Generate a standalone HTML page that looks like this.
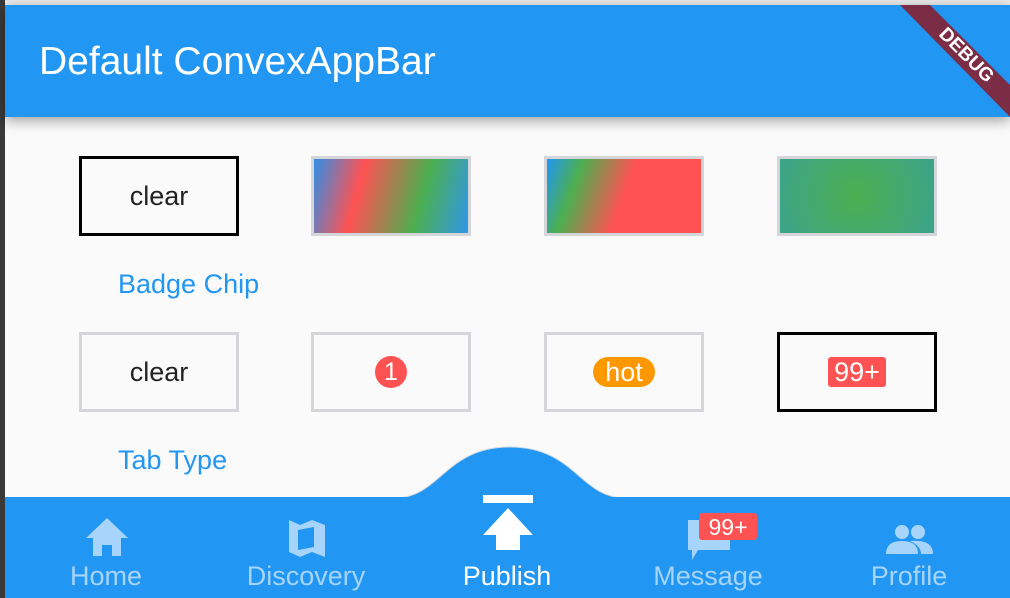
<!DOCTYPE html>
<html><head><meta charset="utf-8"><style>
*{margin:0;padding:0;box-sizing:border-box}
body{width:1010px;height:598px;overflow:hidden;background:#fafafa;font-family:"Liberation Sans",sans-serif;position:relative}
.abs{position:absolute}
.top{left:0;top:0;width:1010px;height:5px;background:#e8e8e8}
.leftedge{left:0;top:0;width:5px;height:598px;background:#3a3a3a}
.bar{left:5px;top:5px;width:1005px;height:112px;background:#2196F3;box-shadow:0 4px 12px rgba(0,0,0,.35);z-index:2}
.title{left:39px;top:40px;color:#fff;font-size:39px;z-index:3}
.box{width:160px;height:80px;border:3px solid #d4d6da;display:flex;align-items:center;justify-content:center;font-size:27px;color:#222}
.blk{border-color:#000}
.lbl{color:#2196F3;font-size:27px}
.bottom{left:5px;top:497px;width:1005px;height:101px;background:#2196F3}
.tab{top:561px;font-size:27px;color:#a6d4fa;width:200px;text-align:center}
</style></head><body>
<div class="abs top"></div>
<div class="abs leftedge"></div>
<div class="abs bar"></div>
<div class="abs title">Default ConvexAppBar</div>
<svg class="abs" style="left:880px;top:5px;z-index:4" width="130" height="112">
<polygon points="20,0 50,0 130,80 130,112" fill="#7b2d46"/>
<text x="0" y="0" transform="translate(58,30) rotate(45)" fill="#fff" font-size="19" font-weight="bold" font-family="Liberation Sans">DEBUG</text>
</svg>
<div class="abs box blk" style="left:79px;top:156px">clear</div>
<div class="abs box" style="left:311px;top:156px"><div style="width:100%;height:100%;background:linear-gradient(105deg,#2f8fe8 0%,#ff5252 30%,#4caf50 68%,#2f96e8 100%)"></div></div>
<div class="abs box" style="left:544px;top:156px"><div style="width:100%;height:100%;background:linear-gradient(110deg,#2196F3 0%,#4caf50 20%,#ff5252 50%,#ff5252 100%)"></div></div>
<div class="abs box" style="left:777px;top:156px"><div style="width:100%;height:100%;background:radial-gradient(circle,#4caf50 0%,#3ba38a 100%)"></div></div>
<div class="abs lbl" style="left:118px;top:269px">Badge Chip</div>
<div class="abs box" style="left:79px;top:332px">clear</div>
<div class="abs box" style="left:311px;top:332px"><span style="display:inline-block;width:32px;height:32px;border-radius:50%;background:#ff5252;color:#fff;text-align:center;line-height:32px;font-size:25px">1</span></div>
<div class="abs box" style="left:544px;top:332px"><span style="background:#ff9800;color:#fff;border-radius:16px;padding:0 12px;line-height:30px;font-size:27px">hot</span></div>
<div class="abs box blk" style="left:777px;top:332px"><span style="background:#ff5252;color:#fff;border-radius:3px;padding:0 6px;line-height:30px;font-size:27px">99+</span></div>
<div class="abs lbl" style="left:118px;top:445px">Tab Type</div>
<svg class="abs" style="left:0;top:440px" width="1010" height="60">
<path d="M395,58 C440,58 445,7 510,7 C575,7 580,58 625,58 Z" fill="#2196F3" stroke="#cfd8e0" stroke-width="1"/>
</svg>
<div class="abs bottom"></div>
<svg class="abs" style="left:0;top:490px" width="1010" height="80">
<path d="M107,28 L86,48 H93 V66 H102 V55 H112 V66 H121 V48 H128 Z" fill="#a6d4fa"/>
<path d="M289,30 L300,35 L312,30 L325,35 V67 L312,62 L300,67 L289,62 Z M298,40 V60 L314,57 V37 Z" fill="#a6d4fa" fill-rule="evenodd"/>
<rect x="483" y="5" width="50" height="8" fill="#fff"/>
<polygon points="508,18 483,45 496,45 496,60 520,60 520,45 533,45" fill="#fff"/>
<path d="M688,30 H730 V60 H698 L692,70 V60 H688 Z" fill="#a6d4fa"/>
<rect x="699" y="23" width="58" height="27" rx="3" fill="#ff5252"/>
<text x="728" y="45" text-anchor="middle" fill="#fff" font-size="23" font-family="Liberation Sans">99+</text>
<circle cx="902" cy="42" r="7" fill="#a6d4fa"/><circle cx="918" cy="42" r="7" fill="#a6d4fa"/>
<path d="M886,64 Q886,51 902,51 Q918,51 918,64 Z M910,51 Q933,49 933,64 H921 Q921,56 910,51Z" fill="#a6d4fa"/>
</svg>
<div class="abs tab" style="left:6px">Home</div>
<div class="abs tab" style="left:206px">Discovery</div>
<div class="abs tab" style="left:407px;color:#fff">Publish</div>
<div class="abs tab" style="left:608px">Message</div>
<div class="abs tab" style="left:809px">Profile</div>
</body></html>
